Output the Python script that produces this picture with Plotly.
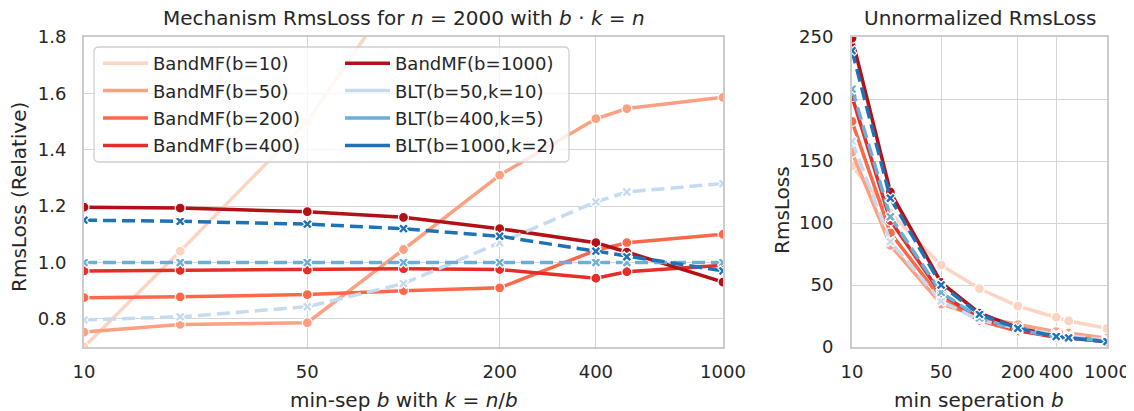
import plotly.graph_objects as go

# page body has an 8px margin; figure is sized so it fills the 1134x411 window
OFF = 8
W, H = 1134 - OFF, 411 - OFF

# ---------------- data ----------------
x_vals = [10, 20, 50, 100, 200, 400, 500, 1000]

names = ["BandMF(b=10)", "BandMF(b=50)", "BandMF(b=200)", "BandMF(b=400)",
         "BandMF(b=1000)", "BLT(b=50,k=10)", "BLT(b=400,k=5)", "BLT(b=1000,k=2)"]

# relative RmsLoss (left panel)
bandmf10_rel = [0.70, 1.04, 1.50, 2.00, 2.39, 2.90, 2.85, 3.30]
bandmf50_rel = [0.753, 0.780, 0.786, 1.046, 1.310, 1.510, 1.546, 1.586]
bandmf200_rel = [0.875, 0.878, 0.886, 0.900, 0.910, 1.043, 1.070, 1.100]
bandmf400_rel = [0.970, 0.972, 0.973, 0.978, 0.975, 0.944, 0.967, 0.990]
bandmf1000_rel = [1.196, 1.193, 1.180, 1.160, 1.120, 1.070, 1.037, 0.930]
blt50_rel = [0.796, 0.807, 0.843, 0.925, 1.070, 1.215, 1.250, 1.280]
blt400_rel = [1.0, 1.0, 1.0, 1.0, 1.0, 1.0, 1.0, 1.0]
blt1000_rel = [1.150, 1.146, 1.136, 1.120, 1.093, 1.040, 1.020, 0.970]

# unnormalized RmsLoss (right panel)
bandmf10_abs = [146, 108, 66, 47, 33, 24, 21, 15]
bandmf50_abs = [157, 82, 34.6, 24.6, 18.1, 12.4, 11.3, 7.1]
bandmf200_abs = [182, 92, 39, 21.2, 12.6, 8.6, 7.8, 5.0]
bandmf400_abs = [202, 102, 42.8, 23.0, 13.5, 7.7, 7.1, 4.5]
bandmf1000_abs = [249, 125, 52, 27.3, 15.5, 8.8, 7.6, 4.2]
blt50_abs = [166, 85, 37, 21.7, 14.8, 10.0, 9.1, 5.8]
blt400_abs = [208, 105, 44, 23.5, 13.8, 8.2, 7.3, 4.5]
blt1000_abs = [239, 120, 50, 26.3, 15.1, 8.5, 7.4, 4.4]

rel_series = [bandmf10_rel, bandmf50_rel, bandmf200_rel, bandmf400_rel,
              bandmf1000_rel, blt50_rel, blt400_rel, blt1000_rel]
abs_series = [bandmf10_abs, bandmf50_abs, bandmf200_abs, bandmf400_abs,
              bandmf1000_abs, blt50_abs, blt400_abs, blt1000_abs]

colors = ["#fdd4c2", "#fca082", "#fb694a", "#e32f27", "#b11117",
          "#c6dbef", "#6baed6", "#2171b5"]

x_ticks = [10, 50, 200, 400, 1000]
x_ticktext = ["10", "50", "200", "400", "1000"]
y_ticks_rel = [0.8, 1.0, 1.2, 1.4, 1.6, 1.8]
y_ticks_abs = [0, 50, 100, 150, 200, 250]

# ---------------- styling ----------------
FONT = "DejaVu Sans"
TXT = "#262626"
GRID = "#d5d5d5"
LW = 3.5


def px_x(p):
    return (p - OFF) / W


def px_y(p):
    return 1 - (p - OFF) / H


fig = go.Figure()

for i, name in enumerate(names):
    is_blt = name.startswith("BLT")
    dash = "13px,6px" if is_blt else "solid"
    marker = dict(symbol="x" if is_blt else "circle", size=9 if is_blt else 10,
                  color=colors[i], line=dict(color="white", width=1.2))
    for xa, ya, ys in (("x", "y", rel_series[i]), ("x2", "y2", abs_series[i])):
        fig.add_trace(go.Scatter(
            x=x_vals, y=ys, xaxis=xa, yaxis=ya, mode="lines+markers",
            line=dict(color=colors[i], width=LW, dash=dash),
            marker=marker, showlegend=False, cliponaxis=True,
            hoverinfo="skip"))

# legend entries (line only), split in two columns
for i, name in enumerate(names):
    fig.add_trace(go.Scatter(
        x=[None], y=[None], xaxis="x", yaxis="y", mode="lines", name=name,
        line=dict(color=colors[i], width=LW), legendgroup=f"g{i}",
        legend="legend" if i < 4 else "legend2"))

axis_common = dict(
    showgrid=True, gridcolor=GRID, gridwidth=1.4,
    showline=True, linecolor="#cccccc", linewidth=2, mirror=True,
    zeroline=False, ticks="", automargin=False,
    tickfont=dict(family=FONT, size=18, color=TXT),
)

legend_common = dict(xanchor="left", yanchor="top", bgcolor="rgba(0,0,0,0)",
                     borderwidth=0, font=dict(family=FONT, size=18, color=TXT),
                     tracegroupgap=1, itemwidth=45)

fig.update_layout(
    width=W, height=H,
    margin=dict(l=0, r=0, t=0, b=0, autoexpand=False),
    paper_bgcolor="white", plot_bgcolor="white",
    font=dict(family=FONT, color=TXT),
    xaxis=dict(axis_common, type="log", range=[1, 3], domain=[px_x(84), px_x(723)],
               tickvals=x_ticks, ticktext=x_ticktext, anchor="y",
               ticklabelstandoff=7),
    yaxis=dict(axis_common, range=[0.7, 1.8], domain=[px_y(347), px_y(37)],
               tickvals=y_ticks_rel, tickformat=".1f", anchor="x",
               ticklabelstandoff=12),
    xaxis2=dict(axis_common, type="log", range=[1, 3], domain=[px_x(852), px_x(1107)],
                tickvals=x_ticks, ticktext=x_ticktext, anchor="y2",
                ticklabelstandoff=7),
    yaxis2=dict(axis_common, range=[0, 250], domain=[px_y(347), px_y(37)],
                tickvals=y_ticks_abs, anchor="x2", ticklabelstandoff=13),
    legend=dict(legend_common, x=px_x(98), y=px_y(45)),
    legend2=dict(legend_common, x=px_x(340), y=px_y(45)),
)

# rounded legend frame
x0, x1, y0, y1 = px_x(94), px_x(569), px_y(162), px_y(47)
rx, ry = 5 / W, 5 / H
path = (f"M{x0+rx},{y1} L{x1-rx},{y1} Q{x1},{y1} {x1},{y1-ry} "
        f"L{x1},{y0+ry} Q{x1},{y0} {x1-rx},{y0} L{x0+rx},{y0} "
        f"Q{x0},{y0} {x0},{y0+ry} L{x0},{y1-ry} Q{x0},{y1} {x0+rx},{y1} Z")
fig.add_shape(type="path", path=path, xref="paper", yref="paper",
              fillcolor="rgba(255,255,255,0.8)",
              line=dict(color="#d0d0d0", width=1.3), layer="above")

ann = dict(xref="paper", yref="paper", showarrow=False,
           font=dict(family=FONT, size=20, color=TXT))
fig.add_annotation(ann, x=px_x(403.5), y=px_y(18), yanchor="middle", xanchor="center",
                   text="Mechanism RmsLoss for <i>n</i> = 2000 with <i>b</i> · <i>k</i> = <i>n</i>")
fig.add_annotation(ann, x=px_x(979.5), y=px_y(18), yanchor="middle", xanchor="center",
                   text="Unnormalized RmsLoss")
fig.add_annotation(ann, x=px_x(404), y=px_y(400), yanchor="middle", xanchor="center",
                   text="min-sep <i>b</i> with <i>k</i> = <i>n</i>/<i>b</i>")
fig.add_annotation(ann, x=px_x(979), y=px_y(400), yanchor="middle", xanchor="center",
                   text="min seperation <i>b</i>")
fig.add_annotation(ann, x=px_x(19), y=px_y(197), yanchor="middle", xanchor="center",
                   text="RmsLoss (Relative)", textangle=-90)
fig.add_annotation(ann, x=px_x(782), y=px_y(210), yanchor="middle", xanchor="center",
                   text="RmsLoss", textangle=-90)

fig.write_html("out.html")
